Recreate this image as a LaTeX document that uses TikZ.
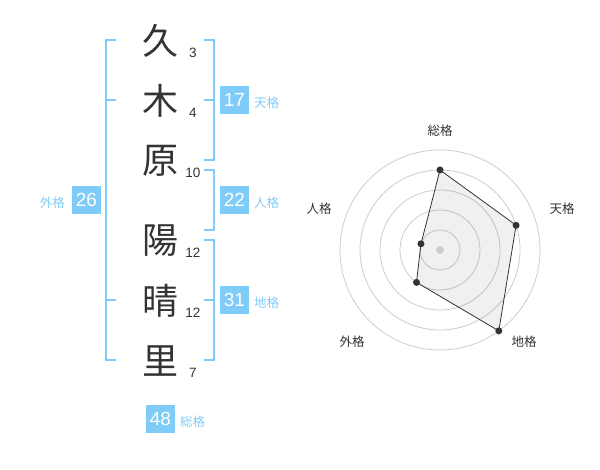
\documentclass[tikz,border=0pt]{standalone}
\usepackage{fontspec}
\setmainfont{Noto Sans CJK JP}
\newfontfamily\numfont{Liberation Sans}
\usepackage{xcolor}
\definecolor{colorBracket}{HTML}{80CCF8}
\definecolor{colorBox}{HTML}{80CCF8}
\definecolor{colorKanji}{HTML}{333333}
\definecolor{colorGrid}{HTML}{CCCCCC}
\usetikzlibrary{positioning}
\tikzset{
  kanji/.style={text=colorKanji, font=\fontsize{36}{36}\selectfont, inner sep=0pt},
  strokes/.style={text=colorKanji, font=\numfont\fontsize{13.5}{13.5}\selectfont, inner sep=0pt},
  score/.style={fill=colorBox, text=white, font=\numfont\fontsize{19}{19}\selectfont, minimum size=28.5pt, inner sep=0pt},
  kaku/.style={text=colorBracket, font=\fontsize{12.5}{12.5}\selectfont, inner sep=0pt, yshift=-3pt},
  bracket/.style={colorBracket, line width=2pt},
  radarlabel/.style={text=colorKanji, font=\fontsize{12.5}{12.5}\selectfont, inner sep=0pt},
  dot/.style={circle, fill=colorKanji, inner sep=0pt, minimum size=7pt},
}

\begin{document}
\begin{tikzpicture}[x=1pt, y=-1pt]
\useasboundingbox (0,0) rectangle (600,470);
% name and stroke counts
\foreach \ch/\y/\n [count=\i] in {久/40/3, 木/100/4, 原/160/10, 陽/240/12, 晴/300/12, 里/360/7} {
  \node[kanji] (k\i) at (160,\y+1) {\ch};
  \node[strokes] (s\i) at (193,\y+13) {\n};
}
% brackets
\draw[bracket] (116,40) -- (106,40) -- (106,360) -- (116,360);
\draw[bracket] (106,100) -- (116,100) (106,300) -- (116,300);
\draw[bracket] (204,40) -- (214,40) -- (214,160) -- (204,160);
\draw[bracket] (204,100) -- (214,100);
\draw[bracket] (204,170) -- (214,170) -- (214,230) -- (204,230);
\draw[bracket] (204,240) -- (214,240) -- (214,360) -- (204,360);
\draw[bracket] (204,300) -- (214,300);
% scores
\node[score] (ten) at (234.5,100) {17};
\node[kaku, right=5pt of ten] (tenL) {天格};
\node[score] (jin) at (234.5,200) {22};
\node[kaku, right=5pt of jin] (jinL) {人格};
\node[score] (chi) at (234.5,300) {31};
\node[kaku, right=5pt of chi] (chiL) {地格};
\node[score] (gai) at (86.5,200) {26};
\node[kaku, left=7pt of gai] (gaiL) {外格};
\node[score] (sou) at (160.5,419) {48};
\node[kaku, right=5pt of sou] (souL) {総格};
% radar chart
\coordinate (o) at (440,250);
\foreach \r in {20,40,...,100}
  \draw[colorGrid, line width=0.8pt] (o) circle[radius=\r pt];
\coordinate (p1) at ([shift={(-90:80)}]o);
\coordinate (p2) at ([shift={(-18:80)}]o);
\coordinate (p3) at ([shift={(54:100)}]o);
\coordinate (p4) at ([shift={(126:40)}]o);
\coordinate (p5) at ([shift={(198:20)}]o);
\fill[black, fill opacity=0.06] (p1) -- (p2) -- (p3) -- (p4) -- (p5) -- cycle;
\node[circle, fill=colorGrid, inner sep=0pt, minimum size=8pt] at (o) {};
\draw[colorKanji, line width=0.8pt] (p1) -- (p2) -- (p3) -- (p4) -- (p5) -- cycle;
\foreach \i in {1,...,5}
  \node[dot] at (p\i) {};
\node[radarlabel] (rSou) at (440,131) {総格};
\node[radarlabel] (rTen) at (562,209) {天格};
\node[radarlabel] (rChi) at (524,342) {地格};
\node[radarlabel] (rGai) at (352,342) {外格};
\node[radarlabel] (rJin) at (319,209) {人格};
\end{tikzpicture}
\end{document}
